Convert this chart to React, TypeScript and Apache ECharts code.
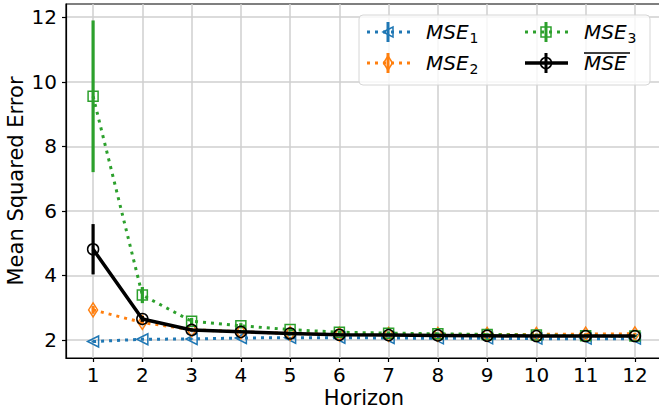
import React, { useEffect, useRef } from 'react';
import * as echarts from 'echarts';

const horizons = [1, 2, 3, 4, 5, 6, 7, 8, 9, 10, 11, 12];
const mse1 = [1.95, 2.02, 2.03, 2.06, 2.07, 2.07, 2.06, 2.05, 2.05, 2.04, 2.04, 2.04];
const mse1Err = [0.03, 0.02, 0.02, 0.02, 0.02, 0.02, 0.02, 0.02, 0.02, 0.02, 0.02, 0.02];
const mse2 = [2.93, 2.54, 2.32, 2.25, 2.2, 2.18, 2.17, 2.17, 2.17, 2.17, 2.18, 2.19];
const mse2Err = [0.12, 0.08, 0.05, 0.04, 0.04, 0.03, 0.03, 0.03, 0.03, 0.03, 0.03, 0.03];
const mse3 = [9.55, 3.39, 2.58, 2.44, 2.32, 2.24, 2.21, 2.19, 2.17, 2.15, 2.13, 2.12];
const mse3Err = [2.35, 0.25, 0.1, 0.08, 0.06, 0.05, 0.05, 0.04, 0.04, 0.04, 0.04, 0.04];
const mseMean = [4.81, 2.65, 2.31, 2.25, 2.2, 2.16, 2.15, 2.14, 2.13, 2.12, 2.12, 2.12];
const mseMeanErr = [0.78, 0.09, 0.04, 0.03, 0.02, 0.02, 0.02, 0.02, 0.02, 0.02, 0.02, 0.02];
const yTicks = [2, 4, 6, 8, 10, 12];

const BLUE = '#1f77b4';
const ORANGE = '#ff7f0e';
const GREEN = '#2ca02c';
const BLACK = '#000000';
const FONT = '"DejaVu Sans", sans-serif';

function lineSeries(name: string, vals: number[], color: string, symbol: string, size: any, rotate: number, dotted: boolean, z: number) {
  return {
    type: 'line',
    name,
    data: horizons.map((h, i) => [h, vals[i]]),
    symbol,
    symbolSize: size,
    symbolRotate: rotate,
    showSymbol: true,
    z,
    lineStyle: dotted
      ? { color, width: 3, type: [3, 5], cap: 'butt' }
      : { color, width: 3.5, type: 'solid' },
    itemStyle: { color: 'rgba(0,0,0,0)', borderColor: color, borderWidth: 1.5 },
    emphasis: { disabled: true },
  };
}

function errSeries(vals: number[], errs: number[], color: string, z: number) {
  return {
    type: 'custom',
    z,
    data: horizons.map((h, i) => [h, vals[i] - errs[i], vals[i] + errs[i]]),
    encode: { x: 0, y: [1, 2] },
    renderItem: (params: any, api: any) => {
      const x = api.value(0);
      const p1 = api.coord([x, api.value(1)]);
      const p2 = api.coord([x, api.value(2)]);
      return {
        type: 'line',
        shape: { x1: p1[0], y1: p1[1], x2: p2[0], y2: p2[1] },
        style: { stroke: color, lineWidth: 3.2 },
      };
    },
  };
}

function legendGraphics() {
  const els: any[] = [];
  els.push({
    type: 'rect',
    shape: { x: 359, y: 15, width: 291, height: 70, r: 4 },
    style: { fill: 'rgba(255,255,255,0.8)', stroke: '#d6d6d6', lineWidth: 1 },
    z: 100,
  });
  const entries = [
    { color: BLUE, x0: 367, y: 32, label: '1', marker: 'tri' },
    { color: ORANGE, x0: 367, y: 63, label: '2', marker: 'dia' },
    { color: GREEN, x0: 525, y: 32, label: '3', marker: 'sq' },
    { color: BLACK, x0: 525, y: 63, label: '', marker: 'circ' },
  ];
  entries.forEach((e) => {
    const cx = e.x0 + 21;
    const dotted = e.marker !== 'circ';
    els.push({
      type: 'line',
      shape: { x1: e.x0, y1: e.y, x2: e.x0 + 43, y2: e.y },
      style: dotted
        ? { stroke: e.color, lineWidth: 3, lineDash: [3, 5] }
        : { stroke: e.color, lineWidth: 3.5 },
      z: 101,
    });
    els.push({
      type: 'line',
      shape: { x1: cx, y1: e.y - 10, x2: cx, y2: e.y + 10 },
      style: { stroke: e.color, lineWidth: 3 },
      z: 102,
    });
    const ms = { fill: 'none', stroke: e.color, lineWidth: 1.5 };
    if (e.marker === 'tri') {
      els.push({ type: 'polygon', shape: { points: [[cx - 5, e.y], [cx + 5, e.y - 5], [cx + 5, e.y + 5]] }, style: ms, z: 103 });
    } else if (e.marker === 'dia') {
      els.push({ type: 'polygon', shape: { points: [[cx, e.y - 7], [cx + 4.5, e.y], [cx, e.y + 7], [cx - 4.5, e.y]] }, style: ms, z: 103 });
    } else if (e.marker === 'sq') {
      els.push({ type: 'rect', shape: { x: cx - 5, y: e.y - 5, width: 10, height: 10 }, style: ms, z: 103 });
    } else {
      els.push({ type: 'circle', shape: { cx, cy: e.y, r: 5.5 }, style: ms, z: 103 });
    }
    const tx = e.x0 + 59;
    els.push({
      type: 'text',
      x: tx,
      y: e.y,
      style: {
        text: e.label ? '{m|MSE}{s|' + e.label + '}' : '{m|MSE}',
        rich: {
          m: { fontFamily: FONT, fontStyle: 'italic', fontSize: 20, fill: '#000', color: '#000', verticalAlign: 'middle' },
          s: { fontFamily: FONT, fontSize: 14, fill: '#000', color: '#000', padding: [12, 0, 0, 1], verticalAlign: 'middle' },
        },
        verticalAlign: 'middle',
        align: 'left',
      },
      z: 103,
    });
    if (!e.label) {
      els.push({
        type: 'line',
        shape: { x1: tx, y1: e.y - 10, x2: tx + 46, y2: e.y - 10 },
        style: { stroke: '#000', lineWidth: 1.3 },
        z: 103,
      });
    }
  });
  return els;
}

export default function App() {
  const ref = useRef<HTMLDivElement>(null);
  useEffect(() => {
    if (!ref.current) return;
    const chart = echarts.init(ref.current, undefined, { renderer: 'svg' });
    chart.setOption({
      animation: false,
      backgroundColor: '#ffffff',
      grid: {
        left: 66, right: 0, top: 4, bottom: 58,
        containLabel: false, outerBoundsMode: 'none',
        show: true, borderColor: '#000', borderWidth: 1.2, backgroundColor: 'transparent',
      },
      xAxis: {
        type: 'value',
        min: 0.45,
        max: 12.55,
        name: 'Horizon',
        nameLocation: 'middle',
        nameGap: 29.5,
        nameMoveOverlap: false,
        nameTextStyle: { fontFamily: FONT, fontSize: 21, color: '#000' },
        axisLine: { show: true, onZero: false, lineStyle: { color: '#000', width: 1.2 } },
        axisTick: { show: true, length: 4, customValues: horizons, lineStyle: { color: '#000', width: 1.2 } },
        axisLabel: { customValues: horizons, fontFamily: FONT, fontSize: 20, color: '#000', margin: 6.5 },
        splitLine: { show: true, lineStyle: { color: '#cfcfcf', width: 1.5 } },
      },
      yAxis: {
        type: 'value',
        min: 1.44,
        max: 12.41,
        name: 'Mean Squared Error',
        nameLocation: 'middle',
        nameGap: 39.5,
        nameMoveOverlap: false,
        nameTextStyle: { fontFamily: FONT, fontSize: 21, color: '#000' },
        axisLine: { show: true, onZero: false, lineStyle: { color: '#000', width: 1.2 } },
        axisTick: { show: true, length: 4, customValues: yTicks, lineStyle: { color: '#000', width: 1.2 } },
        axisLabel: { customValues: yTicks, fontFamily: FONT, fontSize: 20, color: '#000', margin: 9 },
        splitLine: { show: true, lineStyle: { color: '#cfcfcf', width: 1.5 } },
      },
      series: [
        errSeries(mse1, mse1Err, BLUE, 2),
        lineSeries('MSE1', mse1, BLUE, 'triangle', [11, 11], 90, true, 3),
        errSeries(mse2, mse2Err, ORANGE, 4),
        lineSeries('MSE2', mse2, ORANGE, 'diamond', [9, 14], 0, true, 5),
        errSeries(mse3, mse3Err, GREEN, 6),
        lineSeries('MSE3', mse3, GREEN, 'rect', [10, 10], 0, true, 7),
        errSeries(mseMean, mseMeanErr, BLACK, 8),
        lineSeries('MSE mean', mseMean, BLACK, 'circle', [11, 11], 0, false, 9),
      ],
      graphic: legendGraphics(),
    });
    return () => chart.dispose();
  }, []);
  return <div ref={ref} style={{ position: 'fixed', left: 0, top: 0, width: 662, height: 416 }} />;
}
